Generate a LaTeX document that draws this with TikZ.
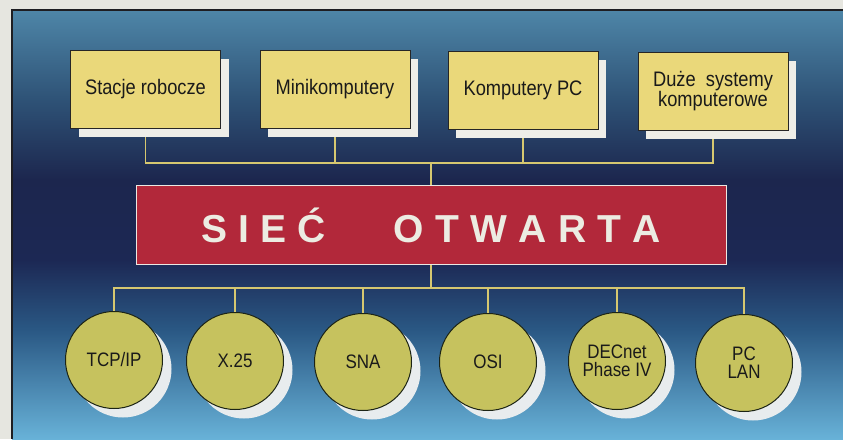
\documentclass[tikz,border=0pt]{standalone}
\usepackage{fontspec}
\setmainfont{Liberation Sans}[FakeStretch=0.87]
\newfontfamily\titlefont{Liberation Sans}
\usetikzlibrary{shadows}
\definecolor{framecol}{RGB}{230,230,224}
\definecolor{panelline}{RGB}{30,30,34}
\definecolor{pc1}{RGB}{78,134,168}
\definecolor{pc2}{RGB}{46,82,118}
\definecolor{pc3}{RGB}{28,38,78}
\definecolor{pc4}{RGB}{28,40,84}
\definecolor{pc5}{RGB}{42,88,132}
\definecolor{pc6}{RGB}{104,178,216}
\definecolor{boxfill}{RGB}{234,216,122}
\definecolor{boxshadow}{RGB}{238,238,232}
\definecolor{circfill}{RGB}{198,194,94}
\definecolor{circline}{RGB}{28,36,22}
\definecolor{circshadow}{RGB}{232,236,238}
\definecolor{netred}{RGB}{178,40,58}
\definecolor{netborder}{RGB}{236,232,226}
\definecolor{nettext}{RGB}{236,236,226}
\definecolor{wirecol}{RGB}{214,200,112}
\definecolor{textcol}{RGB}{26,26,26}
\pgfdeclareverticalshading{panelshade}{100bp}{color(0bp)=(pc6); color(25bp)=(pc6); color(37.7bp)=(pc5); color(45.9bp)=(pc4); color(55.2bp)=(pc3); color(64.5bp)=(pc2); color(75bp)=(pc1); color(100bp)=(pc1)}
\pgfdeclarelayer{bg}
\pgfdeclarelayer{wires}
\pgfsetlayers{bg,wires,main}
\begin{document}
\begin{tikzpicture}[x=1pt,y=-1pt,
  topbox/.style={draw=black!85, line width=0.9pt, fill=boxfill,
    minimum width=150pt, minimum height=78pt, inner sep=0pt, align=center,
    text=textcol, font=\fontsize{21}{20}\selectfont,
    general shadow={fill=boxshadow, shadow xshift=8pt, shadow yshift=-9pt}},
  proto/.style={circle, draw=circline, line width=1pt, fill=circfill,
    minimum size=97pt, inner sep=0pt, align=center, text=textcol,
    font=\fontsize{19.5}{18}\selectfont,
    general shadow={fill=circshadow, shadow xshift=9pt, shadow yshift=-9pt}},
  netbox/.style={draw=netborder, line width=1.6pt, fill=netred,
    minimum width=590pt, minimum height=79pt, inner sep=0pt,
    text height=34pt, text depth=0pt, text=nettext,
    font=\titlefont\bfseries\fontsize{39}{40}\selectfont},
  wire/.style={draw=wirecol, line width=1.6pt}]
\useasboundingbox (0,0) rectangle (843,439);
\begin{pgfonlayer}{bg}
\fill[framecol] (0,0) rectangle (843,439);
\shade[shading=panelshade] (12,10) rectangle (843,439);
\draw[panelline, line width=1.2pt] (12,439) -- (12,10) -- (843,10);
\end{pgfonlayer}

\node[topbox] (b1) at (145.5,89) {Stacje robocze};
\node[topbox] (b2) at (335,89) {Minikomputery};
\node[topbox] (b3) at (523,90) {Komputery PC};
\node[topbox] (b4) at (713,91) {Duże\ \ systemy\\komputerowe};

\node[netbox] (net) at (431.5,225) {S\hspace{11pt}I\hspace{11pt}E\hspace{11pt}Ć\hspace{68pt}O\hspace{11.3pt}T\hspace{11.3pt}W\hspace{11.3pt}A\hspace{11.3pt}R\hspace{11.3pt}T\hspace{11.3pt}A};

\node[proto] (c1) at (114,360) {TCP/IP};
\node[proto] (c2) at (235,361) {X.25};
\node[proto] (c3) at (363,362) {SNA};
\node[proto] (c4) at (488,362) {OSI};
\node[proto] (c5) at (617,361) {DECnet\\Phase IV};
\node[proto] (c6) at (744,363) {PC\\LAN};

\coordinate (tb) at (431,163);
\coordinate (bb) at (431,288);
\begin{pgfonlayer}{wires}
\draw[wire] (b1.south) |- (tb);
\draw[wire] (b2.south) |- (tb);
\draw[wire] (b3.south) |- (tb);
\draw[wire] (b4.south) |- (tb);
\draw[wire] (tb) -- (tb |- net.north);
\draw[wire] (bb |- net.south) -- (bb);
\draw[wire] (bb) -| (c1.north);
\draw[wire] (bb) -| (c2.north);
\draw[wire] (bb) -| (c3.north);
\draw[wire] (bb) -| (c4.north);
\draw[wire] (bb) -| (c5.north);
\draw[wire] (bb) -| (c6.north);
\end{pgfonlayer}
\end{tikzpicture}
\end{document}
